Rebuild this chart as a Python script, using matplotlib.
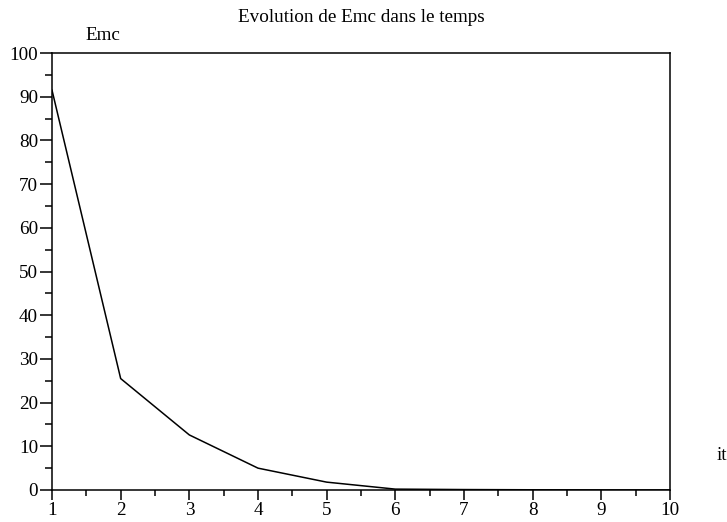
import matplotlib
matplotlib.use("Agg")
import matplotlib.pyplot as plt
from matplotlib.ticker import MultipleLocator

# iterations and Emc values
iterations = [1, 2, 3, 4, 5, 6, 7, 8, 9, 10]
emc = [91.5, 25.5, 12.6, 5.0, 1.8, 0.2, 0.1, 0.05, 0.02, 0.01]

plt.rcParams["font.family"] = ["Liberation Serif", "DejaVu Serif"]

fig = plt.figure(figsize=(7.27, 5.22), dpi=100)
ax = fig.add_axes([52 / 727, 1 - 490 / 522, 618 / 727, 437 / 522])

ax.plot(iterations, emc, color="black", linewidth=1.1)

ax.set_xlim(1, 10)
ax.set_ylim(0, 100)
ax.xaxis.set_major_locator(MultipleLocator(1))
ax.xaxis.set_minor_locator(MultipleLocator(0.5))
ax.yaxis.set_major_locator(MultipleLocator(10))
ax.yaxis.set_minor_locator(MultipleLocator(5))

ax.tick_params(which="both", direction="out", top=False, right=False,
               width=1.1, labelsize=13.8, colors="black")
ax.tick_params(axis="x", which="major", length=7, pad=1.5)
ax.tick_params(axis="x", which="minor", length=4)
ax.tick_params(axis="y", which="major", length=9, pad=1)
ax.tick_params(axis="y", which="minor", length=5)
for sp in ax.spines.values():
    sp.set_linewidth(1.1)

fig.text(361 / 727, 1 - 17 / 522, "Evolution de Emc dans le temps",
         ha="center", va="center", fontsize=13.8)
fig.text(103 / 727, 1 - 35 / 522, "Emc", ha="center", va="center", fontsize=13.8)
fig.text(722 / 727, 1 - 455 / 522, "it", ha="center", va="center", fontsize=13.8)

fig.savefig("out.png", dpi=100)
